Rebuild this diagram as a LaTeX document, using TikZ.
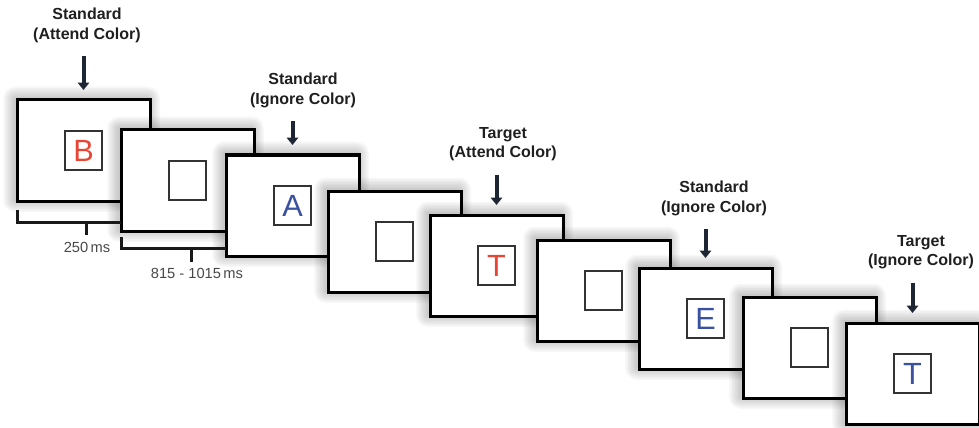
\documentclass[tikz,border=0pt]{standalone}
\usepackage{fontspec}
\setmainfont{Liberation Sans}
\usetikzlibrary{arrows.meta,calc}
\definecolor{stimred}{RGB}{231,70,52}
\definecolor{stimblue}{RGB}{58,80,160}
\definecolor{cueink}{RGB}{30,38,52}
\definecolor{inkgray}{RGB}{72,72,72}
\tikzset{
  screen/.style={draw=black, line width=2.25pt, fill=white,
    minimum width=99.75pt, minimum height=75.75pt, inner sep=0pt, outer sep=0pt},
  glowlayer/.style={fill=black, fill opacity=0.028, draw=none},
  stimbox/.style={draw=black!80, line width=1.1pt, fill=white,
    minimum width=27.75pt, minimum height=29.25pt, inner sep=0pt,
    font=\fontsize{23}{23}\selectfont},
  cuelabel/.style={align=center, text=black!88,
    font=\bfseries\fontsize{12}{14.6}\selectfont},
  cue/.style={draw=cueink, line width=3pt,
    -{Triangle[width=8.5pt,length=5.5pt]},
    shorten <=6.75pt, shorten >=7.5pt},
  bracket/.style={draw=black!90, line width=2.25pt},
  timelabel/.style={text=inkgray, font=\fontsize{11}{13}\selectfont}
}
% a screen: soft grey halo, then the white framed display on top
\newcommand\screenat[3]{%
  \foreach \k [evaluate=\k as \d using 1.5*\k] in {1,...,8}{
    \fill[glowlayer, rounded corners=\d*0.75pt]
      ([shift={(-68.5-\d,-52-\d)}]#2,#3) rectangle ([shift={(64.5+\d,49.5+\d)}]#2,#3);
  }
  \node[screen] (#1) at (#2,#3) {};
}
\begin{document}
\begin{tikzpicture}[x=0.75pt,y=-0.75pt]
\useasboundingbox (0,0) rectangle (979,428);

% stimulus screens, drawn back to front
\screenat{f1}{83.5}{150.5}
\node[stimbox, text=stimred] (s1) at (f1) {B};
\screenat{f2}{187.5}{180.5}
\node[stimbox] (s2) at (f2) {};
\screenat{f3}{292.5}{205.5}
\node[stimbox, text=stimblue] (s3) at (f3) {A};
\screenat{f4}{394.5}{241.5}
\node[stimbox] (s4) at (f4) {};
\screenat{f5}{496.5}{265.5}
\node[stimbox, text=stimred] (s5) at (f5) {T};
\screenat{f6}{603.5}{290.5}
\node[stimbox] (s6) at (f6) {};
\screenat{f7}{705.5}{318.5}
\node[stimbox, text=stimblue] (s7) at (f7) {E};
\screenat{f8}{809.5}{347.5}
\node[stimbox] (s8) at (f8) {};
\screenat{f9}{912.5}{373.5}
\node[stimbox, text=stimblue] (s9) at (f9) {T};

% trial-type labels with cue arrows
\node[cuelabel] (l1) at (87,25.5) {Standard\\(Attend Color)};
\node[cuelabel] (l2) at (303,90.5) {Standard\\(Ignore Color)};
\node[cuelabel] (l3) at (503,144) {Target\\(Attend Color)};
\node[cuelabel] (l4) at (714,198.5) {Standard\\(Ignore Color)};
\node[cuelabel] (l5) at (921,252) {Target\\(Ignore Color)};
\draw[cue] (l1.south -| f1.north) -- (f1.north);
\draw[cue] (l2.south -| f3.north) -- (f3.north);
\draw[cue] (l3.south -| f5.north) -- (f5.north);
\draw[cue] (l4.south -| f7.north) -- (f7.north);
\draw[cue] (l5.south -| f9.north) -- (f9.north);

% timing brackets
\coordinate (b1) at (0,222);
\coordinate (b2) at (0,248);
\draw[bracket] ($(f1.south west)+(0,9)$) -- (f1.south west |- b1) -- (f2.west |- b1);
\draw[bracket] (86,222) coordinate (t1) -- ++(0,13) coordinate (t1e);
\draw[bracket] ($(f2.south west)+(0,6)$) -- (f2.south west |- b2) -- (f3.west |- b2);
\draw[bracket] (191,248) coordinate (t2) -- ++(0,14) coordinate (t2e);
\node[timelabel] (d1) at (87,247) {250\,ms};
\node[timelabel] (d2) at (197,273) {815 - 1015\,ms};
\end{tikzpicture}
\end{document}
